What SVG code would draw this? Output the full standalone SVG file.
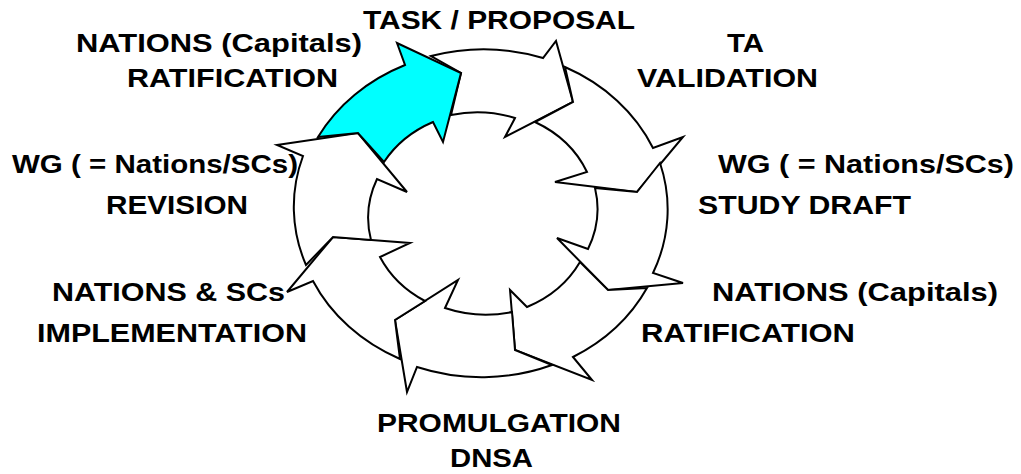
<svg xmlns="http://www.w3.org/2000/svg" width="1021" height="474" viewBox="0 0 1021 474">
<style>
.arw{fill:#ffffff;stroke:#000000;stroke-width:2;stroke-linejoin:miter}
.cy{fill:#00ffff}
.lbl{font-family:"Liberation Sans",Arial,sans-serif;font-weight:bold;font-size:26px;fill:#000000}
</style>
<rect width="1021" height="474" fill="#ffffff"/>
<g id="connectors">
<path id="arrow-top" class="arw" d="M431,56 A186,163.5 0 0 1 543,58 L556,41 L573,102 L505,137 L515,118 A115,101 0 0 0 451,115 L461,73 Z"/>
<path id="arrow-upper-right" class="arw" d="M565,67 A186,163.5 0 0 1 653,148 L683,137 L637,192 L555,182 L587,172 A115,101 0 0 0 535,122 L573,102 Z"/>
<path id="arrow-right" class="arw" d="M660,163 A186,163.5 0 0 1 653,273 L683,283 L608,290 L557,238 L588,249 A115,101 0 0 0 595,188 L637,192 Z"/>
<path id="arrow-lower-right" class="arw" d="M647,288 A186,163.5 0 0 1 573,357 L592,380 L515,350 L510,290 L527,307 A115,101 0 0 0 580,262 L608,290 Z"/>
<path id="arrow-bottom" class="arw" d="M552,365 A186,163.5 0 0 1 417,367 L407,392 L395,320 L458,280 L445,308 A115,101 0 0 0 512,312 L515,350 Z"/>
<path id="arrow-lower-left" class="arw" d="M400,359 A186,163.5 0 0 1 313,281 L287,292 L333,237 L410,243 L380,257 A115,101 0 0 0 425,301 L395,320 Z"/>
<path id="arrow-left" class="arw" d="M306,265 A186,163.5 0 0 1 303,156 L277,145 L358,133 L407,192 L377,179 A115,101 0 0 0 371,240 L333,237 Z"/>
<path id="arrow-upper-left" class="arw cy" d="M318,137 A186,163.5 0 0 1 405,65 L397,43 L461,73 L443,142 L433,122 A115,101 0 0 0 384,162 L358,133 Z"/>
</g>
<g id="node-task">
<text class="lbl" x="363" y="29" textLength="272" lengthAdjust="spacingAndGlyphs">TASK / PROPOSAL</text>
</g>
<g id="node-ta-validation">
<text class="lbl" x="727" y="52" textLength="37" lengthAdjust="spacingAndGlyphs">TA</text>
<text class="lbl" x="637" y="87" textLength="181" lengthAdjust="spacingAndGlyphs">VALIDATION</text>
</g>
<g id="node-study-draft">
<text class="lbl" x="718" y="173" textLength="296" lengthAdjust="spacingAndGlyphs">WG ( = Nations/SCs)</text>
<text class="lbl" x="698" y="214" textLength="213" lengthAdjust="spacingAndGlyphs">STUDY DRAFT</text>
</g>
<g id="node-ratification-right">
<text class="lbl" x="712" y="301" textLength="286" lengthAdjust="spacingAndGlyphs">NATIONS (Capitals)</text>
<text class="lbl" x="641" y="342" textLength="214" lengthAdjust="spacingAndGlyphs">RATIFICATION</text>
</g>
<g id="node-promulgation">
<text class="lbl" x="377" y="432" textLength="244" lengthAdjust="spacingAndGlyphs">PROMULGATION</text>
<text class="lbl" x="450" y="467" textLength="83" lengthAdjust="spacingAndGlyphs">DNSA</text>
</g>
<g id="node-implementation">
<text class="lbl" x="52" y="301" textLength="233" lengthAdjust="spacingAndGlyphs">NATIONS &amp; SCs</text>
<text class="lbl" x="37" y="342" textLength="270" lengthAdjust="spacingAndGlyphs">IMPLEMENTATION</text>
</g>
<g id="node-revision">
<text class="lbl" x="12" y="173" textLength="286" lengthAdjust="spacingAndGlyphs">WG ( = Nations/SCs)</text>
<text class="lbl" x="106" y="214" textLength="142" lengthAdjust="spacingAndGlyphs">REVISION</text>
</g>
<g id="node-ratification-left">
<text class="lbl" x="76" y="52" textLength="286" lengthAdjust="spacingAndGlyphs">NATIONS (Capitals)</text>
<text class="lbl" x="127" y="87" textLength="211" lengthAdjust="spacingAndGlyphs">RATIFICATION</text>
</g>
</svg>
